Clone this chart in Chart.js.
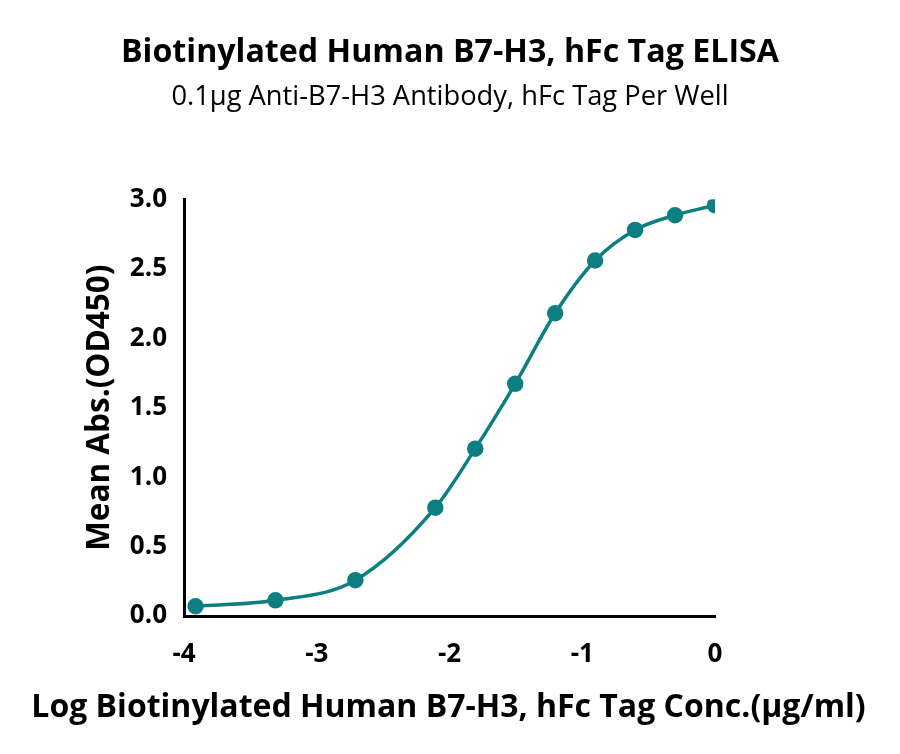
<!DOCTYPE html>
<html>
<head>
<meta charset="utf-8">
<script src="https://cdn.jsdelivr.net/npm/chart.js@4"></script>
<style>
  html, body { margin: 0; padding: 0; background: #fff; }
  #wrap { width: 900px; height: 754px; }
</style>
</head>
<body>
<div id="wrap"><canvas id="elisa" width="900" height="754"></canvas></div>
<script>
    // log10 of the concentration (ug/ml) and the mean OD450
    let logConc = [-3.913, -3.311, -2.709, -2.107, -1.806, -1.505, -1.204, -0.903, -0.602, -0.301, 0];
    let meanAbs = [0.07, 0.113, 0.258, 0.78, 1.205, 1.672, 2.18, 2.56, 2.78, 2.886, 2.958];
    let xTicks = [-4, -3, -2, -1, 0];
    let yTicks = [0, 0.5, 1.0, 1.5, 2.0, 2.5, 3.0];

    let titleText = 'Biotinylated Human B7-H3, hFc Tag ELISA';
    let subText = '0.1\u03bcg Anti-B7-H3 Antibody, hFc Tag Per Well';
    let xTitle = 'Log Biotinylated Human B7-H3, hFc Tag Conc.(\u03bcg/ml)';
    let yTitle = 'Mean Abs.(OD450)';

    let teal = '#0e7f80';
    let fam = '"Open Sans", "Noto Sans", sans-serif';

    let points = [];
    for (let i = 0; i < logConc.length; i++) {
        points.push({ x: logConc[i], y: meanAbs[i] });
    }

    // x axis title drawn by hand, Chart.js squeezes it to the scale width
    const xTitlePlugin = {
        id: 'xTitle',
        afterDraw(chart) {
            let c = chart.ctx;
            let xs = chart.scales.x;
            c.save();
            c.font = 'bold 32px ' + fam;
            c.fillStyle = '#000';
            c.textAlign = 'center';
            c.textBaseline = 'alphabetic';
            c.fillText(xTitle, (xs.left + xs.right) / 2 - 1, 717);
            c.restore();
        }
    };

    const ctx = document.getElementById('elisa').getContext('2d');
    const elisaChart = new Chart(ctx, {
        type: 'scatter',
        data: {
            datasets: [{
                data: points,
                showLine: true,
                borderColor: teal,
                backgroundColor: teal,
                borderWidth: 3.5,
                pointRadius: 6.5,
                pointHoverRadius: 6.5,
                cubicInterpolationMode: 'monotone'
            }]
        },
        plugins: [xTitlePlugin],
        options: {
            responsive: false,
            animation: false,
            layout: { padding: 0 },
            plugins: {
                legend: { display: false },
                tooltip: { enabled: false },
                title: {
                    display: true,
                    text: titleText,
                    color: '#000',
                    font: { family: fam, size: 32.2, weight: 'bold' },
                    padding: { top: 34, bottom: 8 }
                },
                subtitle: {
                    display: true,
                    text: subText,
                    color: '#000',
                    font: { family: fam, size: 27.3 },
                    padding: { top: 0, bottom: 86 }
                }
            },
            scales: {
                x: {
                    type: 'linear',
                    min: -4,
                    max: 0,
                    afterBuildTicks: function(scale) {
                        scale.ticks = xTicks.map(v => ({ value: v }));
                    },
                    afterFit: function(scale) { scale.height = 138; },
                    grid: { display: false, drawTicks: true, tickLength: 10, tickWidth: 3, tickColor: '#000' },
                    border: { display: true, color: '#000', width: 3 },
                    ticks: {
                        color: '#000',
                        padding: 13,
                        font: { family: fam, size: 26, weight: 'bold' },
                        callback: v => String(v)
                    }
                },
                y: {
                    type: 'linear',
                    min: 0,
                    max: 3,
                    afterBuildTicks: function(scale) {
                        scale.ticks = yTicks.map(v => ({ value: v }));
                    },
                    afterFit: function(scale) { scale.width = 184; },
                    grid: { display: false, drawTicks: true, tickLength: 10, tickWidth: 3, tickColor: '#000' },
                    border: { display: true, color: '#000', width: 3 },
                    ticks: {
                        color: '#000',
                        padding: 7,
                        font: { family: fam, size: 26, weight: 'bold' },
                        callback: v => v.toFixed(1)
                    },
                    title: {
                        display: true,
                        text: yTitle,
                        color: '#000',
                        font: { family: fam, size: 31.5, weight: 'bold' },
                        padding: { top: 81, bottom: 0 }
                    }
                },
                // empty right box so the plot ends at x = 715 while titles stay centred on the page
                yRight: {
                    type: 'linear',
                    position: 'right',
                    display: true,
                    afterFit: function(scale) { scale.width = 185; },
                    grid: { display: false },
                    border: { display: false },
                    ticks: { display: false }
                }
            }
        }
    });
</script>
</body>
</html>
